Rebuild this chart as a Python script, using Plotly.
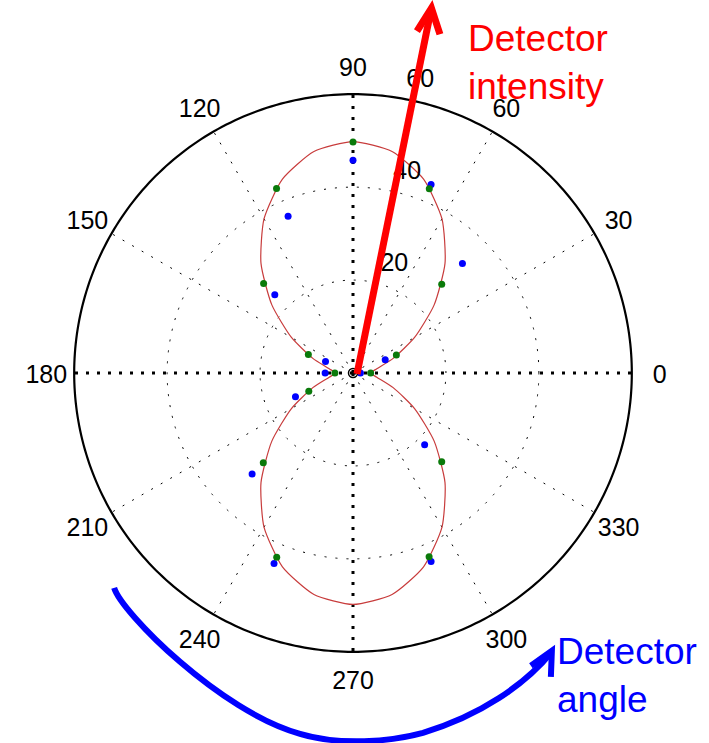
import math
import plotly.graph_objects as go

# ---- data ----
fit_angles = list(range(0, 361, 10))
fit_r = [3.8, 5.2, 9.2, 15.3, 22.8, 30.8, 38.3, 44.4, 48.4, 49.8, 48.4, 44.4, 38.3, 30.8,
         22.8, 15.3, 9.2, 5.2, 3.8, 5.2, 9.2, 15.3, 22.8, 30.8, 38.3, 44.4, 48.4, 49.8,
         48.4, 44.4, 38.3, 30.8, 22.8, 15.3, 9.2, 5.2, 3.8]

sample_angles = [0, 22.5, 45, 67.5, 90, 112.5, 135, 157.5, 180, 202.5, 225, 247.5, 292.5, 315]
green_r = [3.8, 10.1, 27.0, 42.9, 49.7, 43.0, 27.2, 10.4, 3.9, 10.3, 27.3, 42.9, 42.8, 27.0]
blue_r = [1.6, 7.5, 33.3, 43.9, 45.8, 36.5, 23.8, 6.4, 6.0, 13.4, 30.7, 44.4, 43.9, 21.8]

angle_ticks = list(range(0, 360, 30))
radial_ticks = [20, 40, 60]
r_max = 60

# label placement (MATLAB-like polar labels)
r_view = 68                       # radial room kept for the outer labels
radial_label_angle = 82
radial_label_shift = 0.9          # radial units beyond the tick
angle_label_factor = 1.1          # label centres relative to the outer circle
angle_label_drop = 0.75           # small downward shift of label centres (radial units)

# ---- layout geometry (pixels) ----
W, H = 709, 743
CX, CY, RAD = 353, 373, 279       # centre and radius of the r_max circle
HALF = RAD * r_view / r_max
L, T = CX - HALF, CY - HALF
R, B = W - (CX + HALF), H - (CY + HALF)
PW, PH = W - L - R, H - T - B


def px(x, y):
    return (x - L) / PW, 1 - (y - T) / PH


def fmt(x, y):
    xp, yp = px(x, y)
    return f"{xp:.5f},{yp:.5f}"


def polyline(points):
    return "M" + " L".join(fmt(x, y) for x, y in points)


font_family = "Arial, Liberation Sans, Helvetica, sans-serif"
GRID_DASH = "2px,9px"
LABEL_SIZE = 25
NOTE_SIZE = 37

fig = go.Figure()

# thin dotted spokes
thin_r, thin_t = [], []
for a in angle_ticks:
    if a % 90:
        thin_r += [0, r_max, None]
        thin_t += [a, a, None]
fig.add_trace(go.Scatterpolar(
    r=thin_r, theta=thin_t, mode="lines",
    line=dict(color="black", width=1, dash=GRID_DASH),
    hoverinfo="skip", showlegend=False))

# heavier dotted spokes at 0, 90, 180, 270
heavy_r, heavy_t = [], []
for a in (0, 90, 180, 270):
    heavy_r += [0, r_max, None]
    heavy_t += [a, a, None]
fig.add_trace(go.Scatterpolar(
    r=heavy_r, theta=heavy_t, mode="lines",
    line=dict(color="black", width=3, dash="3px,8px"),
    hoverinfo="skip", showlegend=False))

# solid outer circle at r_max
fig.add_trace(go.Scatterpolar(
    r=[r_max] * 361, theta=list(range(361)), mode="lines",
    line=dict(color="black", width=2.2),
    hoverinfo="skip", showlegend=False))

fig.add_trace(go.Scatterpolar(
    r=fit_r, theta=fit_angles, mode="lines",
    line=dict(color="#c83c3c", width=1.2, shape="spline", smoothing=0.6),
    showlegend=False))

fig.add_trace(go.Scatterpolar(
    r=blue_r, theta=sample_angles, mode="markers",
    marker=dict(color="#0000ff", size=7), showlegend=False))

fig.add_trace(go.Scatterpolar(
    r=green_r, theta=sample_angles, mode="markers",
    marker=dict(color="#0a7a0a", size=7), showlegend=False))

fig.add_trace(go.Scatterpolar(
    r=[0], theta=[0], mode="markers",
    marker=dict(symbol="circle-open", color="black", size=9, line=dict(width=1.5)),
    showlegend=False))

# radial tick labels (horizontal, beside the 82 degree direction)
fig.add_trace(go.Scatterpolar(
    r=[v + radial_label_shift for v in radial_ticks],
    theta=[radial_label_angle] * len(radial_ticks), mode="text",
    text=["\u00a0\u00a0" + str(v) for v in radial_ticks], textposition="top right",
    textfont=dict(size=LABEL_SIZE, family=font_family, color="black"),
    cliponaxis=False, hoverinfo="skip", showlegend=False))

# angular tick labels centred on a circle just outside the plot
lab_r, lab_t = [], []
for a in angle_ticks:
    x = r_max * angle_label_factor * math.cos(math.radians(a))
    y = r_max * angle_label_factor * math.sin(math.radians(a)) - angle_label_drop
    lab_r.append(math.hypot(x, y))
    lab_t.append(math.degrees(math.atan2(y, x)))
fig.add_trace(go.Scatterpolar(
    r=lab_r, theta=lab_t, mode="text",
    text=[str(a) for a in angle_ticks], textposition="middle center",
    textfont=dict(size=LABEL_SIZE, family=font_family, color="black"),
    cliponaxis=False, hoverinfo="skip", showlegend=False))

fig.update_layout(
    width=W, height=H,
    margin=dict(l=L, r=R, t=T, b=B),
    paper_bgcolor="white",
    plot_bgcolor="white",
    font=dict(family=font_family, size=LABEL_SIZE, color="black"),
    polar=dict(
        domain=dict(x=[0, 1], y=[0, 1]),
        bgcolor="rgba(0,0,0,0)",
        angularaxis=dict(
            direction="counterclockwise", rotation=0,
            tickmode="array", tickvals=angle_ticks, showticklabels=False, ticks="",
            showline=False, showgrid=False,
        ),
        radialaxis=dict(
            range=[0, r_view], tickmode="array", tickvals=radial_ticks[:-1],
            showticklabels=False, showline=False, ticks="",
            showgrid=True, gridcolor="black", gridwidth=1, griddash=GRID_DASH,
        ),
    ),
)

# red arrow (detector intensity)
fig.add_shape(type="path", xref="paper", yref="paper",
              path=polyline([(357, 374), (431, 10)]),
              line=dict(color="#ff0000", width=7))
fig.add_shape(type="path", xref="paper", yref="paper",
              path=polyline([(417, 31), (431.5, 8), (440, 34)]),
              line=dict(color="#ff0000", width=7))

# blue curved arrow (detector angle)
blue_path = ("M" + fmt(114, 588)
             + " C" + fmt(121, 612) + " " + fmt(220, 712) + " " + fmt(300, 734)
             + " C" + fmt(340, 746) + " " + fmt(390, 742) + " " + fmt(423, 733)
             + " C" + fmt(480, 716) + " " + fmt(525, 685) + " " + fmt(552, 652))
fig.add_shape(type="path", xref="paper", yref="paper", path=blue_path,
              line=dict(color="#0000ff", width=6))
fig.add_shape(type="path", xref="paper", yref="paper",
              path=polyline([(531, 666), (552, 651), (551, 677)]),
              line=dict(color="#0000ff", width=6))

xa, ya = px(466, 16)
fig.add_annotation(xref="paper", yref="paper", x=xa, y=ya, xanchor="left", yanchor="top",
                   text="Detector<br>intensity", showarrow=False, align="left",
                   font=dict(size=NOTE_SIZE, color="#ff0000", family=font_family))
xa, ya = px(555, 629)
fig.add_annotation(xref="paper", yref="paper", x=xa, y=ya, xanchor="left", yanchor="top",
                   text="Detector<br>angle", showarrow=False, align="left",
                   font=dict(size=NOTE_SIZE, color="#0000ff", family=font_family))

fig.write_html("out.html", config={"displayModeBar": False},
               post_script="document.body.style.margin='0';document.body.style.overflow='hidden';")
